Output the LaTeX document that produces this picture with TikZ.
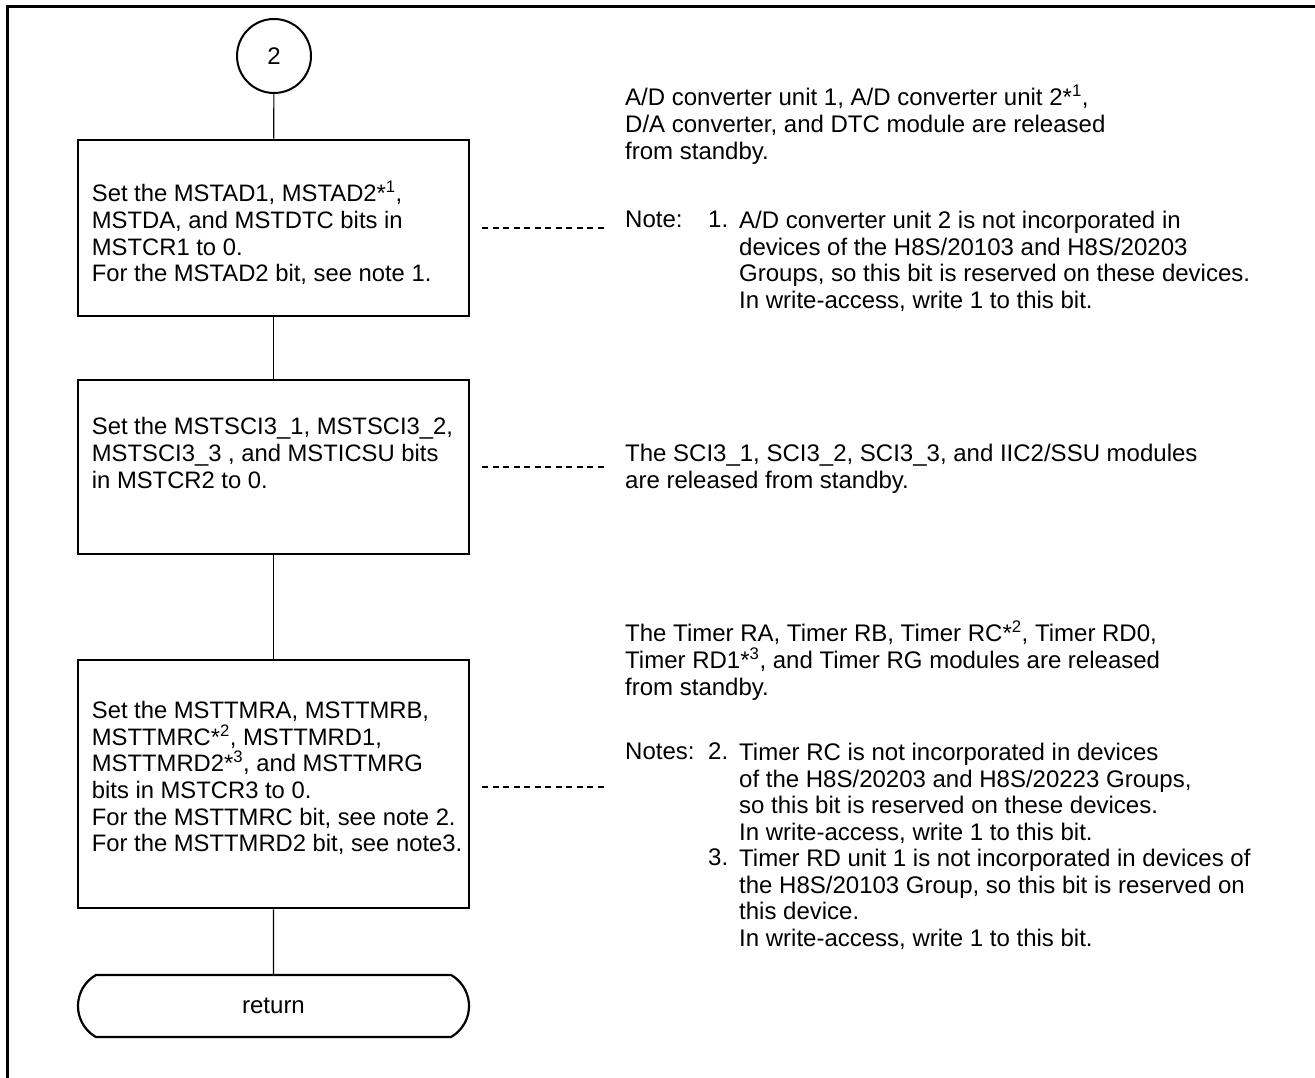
\documentclass[tikz,border=0pt]{standalone}
\usepackage{fontspec}
\setmainfont{Liberation Sans}
\usetikzlibrary{shapes.misc}

\begin{document}
\begin{tikzpicture}[x=1pt,y=-1pt]
\tikzstyle{every node}=[font=\fontsize{24}{26.7}\selectfont, inner sep=0pt]
\tikzstyle{stepbox}=[draw, rectangle, line width=2.6pt, minimum width=391pt]
\tikzstyle{steptext}=[anchor=west, xshift=15pt, align=left, font=\fontsize{23.8}{26.7}\selectfont]
\tikzstyle{remark}=[anchor=north west, align=left]
\tikzstyle{leader}=[line width=1.1pt, dash pattern=on 6pt off 4.5pt]
\useasboundingbox (0,0) rectangle (1315,1078);
\draw[line width=3pt] (7,1078) -- (7,7) -- (1315,7);

% flow
\draw (274,56) node (c2) [draw, circle, line width=2pt, minimum size=74pt] {2};
\draw (273.5,228) node (b1) [stepbox, minimum height=176pt, label={[steptext, yshift=-5pt]west:{Set the MSTAD1, MSTAD2*\textsuperscript{1},\\MSTDA, and MSTDTC bits in\\MSTCR1 to 0.\\For the MSTAD2 bit, see note 1.}}] {};
\draw (273.5,467) node (b2) [stepbox, minimum height=174pt, label={[steptext, yshift=14pt]west:{Set the MSTSCI3\_1, MSTSCI3\_2,\\MSTSCI3\_3 , and MSTICSU bits\\in MSTCR2 to 0.}}] {};
\draw (273.5,784) node (b3) [stepbox, minimum height=248pt, label={[steptext, yshift=6pt]west:{Set the MSTTMRA, MSTTMRB,\\MSTTMRC*\textsuperscript{2}, MSTTMRD1,\\MSTTMRD2*\textsuperscript{3}, and MSTTMRG\\bits in MSTCR3 to 0.\\For the MSTTMRC bit, see note 2.\\For the MSTTMRD2 bit, see note3.}}] {};
\draw (273.5,1006) node (ret) [draw, rounded rectangle, rounded rectangle arc length=120, line width=2.2pt, minimum width=391pt, minimum height=62pt] {return};
\draw[line width=1.2pt] (c2) -- (b1);
\draw[line width=1.2pt] (b1) -- (b2);
\draw[line width=1.2pt] (b2) -- (b3);
\draw[line width=1.2pt] (b3) -- (ret);

% leaders
\path (b1.east) ++(12,0) coordinate (d1a) ++(123,0) coordinate (d1b);
\path (b2.east) ++(12,0) coordinate (d2a) ++(123,0) coordinate (d2b);
\path (b3.east) ++(12,3) coordinate (d3a) ++(123,0) coordinate (d3b);
\draw[leader] (d1a) -- (d1b);
\draw[leader] (d2a) -- (d2b);
\draw[leader] (d3a) -- (d3b);

% remarks
\draw (625,85) node (r1) [remark] {A/D converter unit 1, A/D converter unit 2*\textsuperscript{1},\\D/A converter, and DTC module are released\\from standby.};
\draw (625,211) node (r1lbl) [remark] {Note:};
\draw (708,211) node (r1num) [remark] {1.};
\draw (739,211) node (r1txt) [remark] {A/D converter unit 2 is not incorporated in\\devices of the H8S/20103 and H8S/20203\\Groups, so this bit is reserved on these devices.\\In write-access, write 1 to this bit.};
\draw (625,444) node (r2) [remark] {The SCI3\_1, SCI3\_2, SCI3\_3, and IIC2/SSU modules\\are released from standby.};
\draw (625,621) node (r3) [remark] {The Timer RA, Timer RB, Timer RC*\textsuperscript{2}, Timer RD0,\\Timer RD1*\textsuperscript{3}, and Timer RG modules are released\\from standby.};
\draw (625,743) node (r3lbl) [remark] {Notes:};
\draw (708,743) node (r3num) [remark] {2.};
\draw (739,743) node (r3txt) [remark] {Timer RC is not incorporated in devices\\of the H8S/20203 and H8S/20223 Groups,\\so this bit is reserved on these devices.\\In write-access, write 1 to this bit.};
\draw (708,849) node (r4num) [remark] {3.};
\draw (739,849) node (r4txt) [remark] {Timer RD unit 1 is not incorporated in devices of\\the H8S/20103 Group, so this bit is reserved on\\this device.\\In write-access, write 1 to this bit.};
\end{tikzpicture}
\end{document}
